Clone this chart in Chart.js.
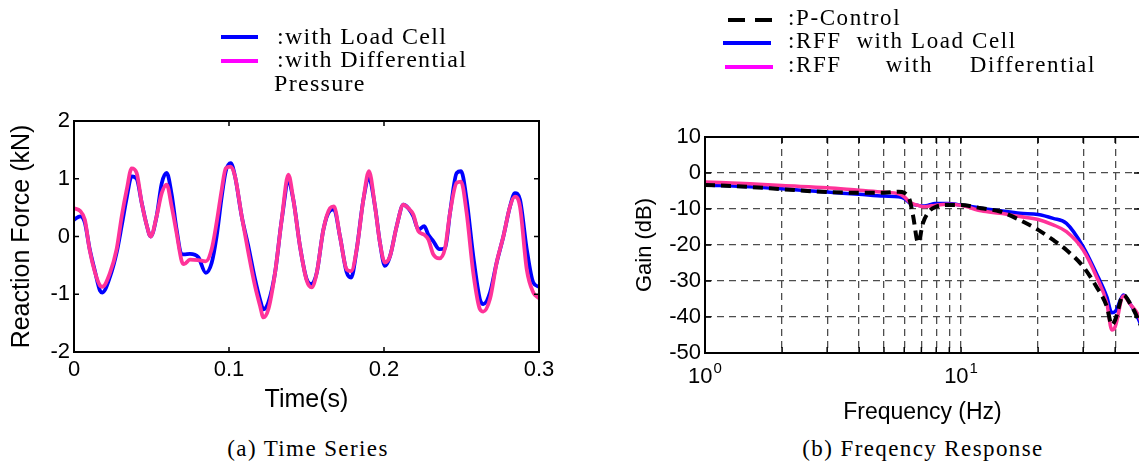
<!DOCTYPE html>
<html lang="en">
<head>
<meta charset="UTF-8">
<title>Reaction force and frequency response</title>
<script src="https://cdn.jsdelivr.net/npm/chart.js@4.4.1/dist/chart.umd.min.js"></script>
<style>
  html, body { margin: 0; padding: 0; width: 1139px; height: 469px; overflow: hidden; background: #fff; }
  canvas { position: absolute; top: 0; }
  .lg { position: absolute; z-index: 2; font-family: 'Liberation Serif', 'Times New Roman', serif;
        font-size: 24px; line-height: 24px; letter-spacing: 1.3px; white-space: pre; color: #000; }
  .lg.r { font-size: 23px; line-height: 23px; letter-spacing: 1.6px; }
  .sw { position: absolute; z-index: 2; height: 4px; }
  .cap { position: absolute; top: 437px; font-family: 'Liberation Serif', 'Times New Roman', serif;
         font-size: 23px; line-height: 23px; letter-spacing: 1.4px; white-space: pre; transform: translateX(-50%); }
</style>
</head>
<body>
<canvas id="timeChart" width="570" height="419" style="left:0"></canvas>
<canvas id="freqChart" width="545" height="430" style="left:600px"></canvas>

<!-- legend (a) -->
<div class="sw" id="swA0" style="left:221px; top:35px; width:37px"></div>
<div class="sw" id="swA1" style="left:221px; top:59px; width:37px"></div>
<div class="lg" style="left:277px; top:24px">:with Load Cell</div>
<div class="lg" style="left:277px; top:47px">:with Differential</div>
<div class="lg" style="left:274px; top:71px">Pressure</div>

<!-- legend (b) -->
<div class="sw" id="swB0a" style="left:728px; top:18px; width:17px"></div>
<div class="sw" id="swB0b" style="left:755px; top:18px; width:17px"></div>
<div class="sw" id="swB1" style="left:723px; top:41px; width:48px"></div>
<div class="sw" id="swB2" style="left:725px; top:65px; width:48px"></div>
<div class="lg r" style="left:788px; top:6px">:P-Control</div>
<div class="lg r" style="left:788px; top:29px">:RFF  with Load Cell</div>
<div class="lg r" style="left:788px; top:53px">:RFF      with     Differential</div>

<div class="cap" style="left:308px">(a) Time Series</div>
<div class="cap" style="left:923px">(b) Freqency Response</div>

<script>
// ---- (a) time series ----
const timeSec = [0, 0.004, 0.007, 0.010, 0.0135, 0.0168, 0.0183, 0.0232, 0.0275, 0.0308,
  0.034, 0.0372, 0.0404, 0.0437, 0.0465, 0.0495, 0.0533, 0.0566, 0.0598, 0.063,
  0.0662, 0.0695, 0.0709, 0.0748, 0.0802, 0.085, 0.0888, 0.092, 0.0953, 0.0979,
  0.1011, 0.1039, 0.1082, 0.1125, 0.1168, 0.12, 0.1222, 0.1254, 0.1297, 0.134,
  0.1383, 0.1415, 0.1458, 0.1501, 0.1533, 0.1566, 0.1609, 0.1652, 0.1677, 0.1716,
  0.1759, 0.1788, 0.1824, 0.1867, 0.1903, 0.1942, 0.1974, 0.2006, 0.2039, 0.2082,
  0.2125, 0.2157, 0.2189, 0.2222, 0.226, 0.2286, 0.2318, 0.2357, 0.2394, 0.2426,
  0.2469, 0.2497, 0.2533, 0.2576, 0.2619, 0.2641, 0.2684, 0.2727, 0.277, 0.2813,
  0.2845, 0.2877, 0.2921, 0.2963, 0.3];
const forceLoadCell = [0.29, 0.35, 0.24, -0.2, -0.6, -0.94, -0.97, -0.7, -0.28, 0.19,
  0.67, 1.04, 1.0, 0.58, 0.24, 0.0, 0.35, 0.92, 1.1, 0.73,
  0.12, -0.31, -0.31, -0.3, -0.36, -0.63, -0.46, 0.0, 0.69, 1.13,
  1.27, 1.04, 0.35, -0.17, -0.74, -1.09, -1.26, -1.14, -0.63, 0.29,
  0.93, 0.64, -0.17, -0.74, -0.82, -0.63, 0.12, 0.45, 0.47, 0.0,
  -0.62, -0.71, -0.22, 0.64, 1.01, 0.52, -0.11, -0.51, -0.34, 0.18,
  0.55, 0.49, 0.35, 0.12, 0.18, 0.03, -0.08, -0.22, -0.2, 0.41,
  1.1, 1.13, 0.64, -0.34, -1.09, -1.17, -0.97, -0.45, 0.0, 0.52,
  0.75, 0.64, -0.22, -0.8, -0.87];
const forceDiffPressure = [0.49, 0.44, 0.29, -0.22, -0.62, -0.85, -0.87, -0.63, -0.22, 0.35,
  0.81, 1.18, 1.1, 0.58, 0.24, 0.0, 0.35, 0.75, 0.9, 0.52,
  0.06, -0.43, -0.48, -0.4, -0.41, -0.43, -0.22, 0.24, 0.81, 1.18,
  1.21, 1.04, 0.35, -0.28, -0.86, -1.2, -1.4, -1.26, -0.63, 0.29,
  1.07, 0.64, -0.17, -0.76, -0.88, -0.63, 0.12, 0.49, 0.52, 0.0,
  -0.57, -0.6, -0.22, 0.64, 1.13, 0.52, -0.11, -0.45, -0.34, 0.18,
  0.55, 0.49, 0.38, 0.09, 0.03, -0.05, -0.31, -0.38, -0.2, 0.41,
  0.93, 0.95, 0.41, -0.63, -1.26, -1.3, -1.08, -0.45, 0.0, 0.52,
  0.69, 0.52, -0.57, -0.97, -1.07];
const timeTicks = [0, 0.1, 0.2, 0.3];
const forceTicks = [-2, -1, 0, 1, 2];
const timeSeriesNames = ['with Load Cell', 'with Differential Pressure'];

// ---- (b) frequency response ----
const freqHz = [1, 1.5, 2, 3, 4, 5, 5.7, 6, 6.3, 6.5, 6.8, 7.1, 7.5, 7.9, 8.8, 10,
  12, 14.2, 17, 20, 22.9, 25.8, 30, 33.8, 37.1, 38.8, 40, 43.1, 45.7, 49.3, 52];
const gainPControl = [-3.3, -3.9, -4.5, -5.3, -5.5, -5.5, -5.2, -5.5, -7.5, -12, -19.4, -13.9, -10.7, -9.5, -8.9, -8.9,
  -9.8, -10.7, -13.1, -15.8, -18.6, -21.4, -26, -31.6, -37.1, -42.2, -40.8, -33.9, -36.2, -40.8, -45];
const gainRffLoadCell = [-3.3, -3.8, -4.4, -5.3, -5.9, -6.4, -6.6, -7.1, -8.3, -8.7, -9.0, -9.2, -8.9, -8.5, -8.5, -8.9,
  -9.8, -10.5, -11.2, -11.5, -12.6, -14, -20.5, -27.9, -34.4, -38.8, -38.5, -33.9, -36.2, -40.6, -45];
const gainRffDiff = [-2.5, -3.0, -3.5, -4.1, -4.8, -5.3, -5.8, -6.6, -8.1, -8.6, -9.0, -9.4, -9.2, -9.0, -8.7, -9.0,
  -10.5, -11.2, -12.1, -12.9, -14.4, -16.3, -21.4, -28.8, -36.2, -43.6, -42.7, -34.2, -36.4, -39.5, -44];
const freqGridTicks = [1, 2, 3, 4, 5, 6, 7, 8, 9, 10, 20, 30, 40, 50];
const freqPowerTicks = [1, 10];
const gainTicks = [-50, -40, -30, -20, -10, 0, 10];
const freqSeriesNames = ['P-Control', 'RFF with Load Cell', 'RFF with Differential'];

const BLUE = '#0000ff';
const PINK = '#ff3399';
const MAGENTA = '#ff00ff';

document.getElementById('swA0').style.background = BLUE;
document.getElementById('swA1').style.background = MAGENTA;
document.getElementById('swB0a').style.background = '#000';
document.getElementById('swB0b').style.background = '#000';
document.getElementById('swB1').style.background = BLUE;
document.getElementById('swB2').style.background = MAGENTA;

Chart.defaults.font.family = "'Liberation Sans', Arial, sans-serif";
Chart.defaults.color = '#000';

// matlab style frame with inward tick marks
const boxTicks = {
  id: 'boxTicks',
  afterDraw(chart, args, opts) {
    const { ctx, chartArea: a, scales: { x, y } } = chart;
    const len = opts.len || 5;
    ctx.save();
    ctx.strokeStyle = '#000';
    ctx.lineWidth = 1.5;
    ctx.beginPath();
    x.ticks.forEach(t => {
      const px = x.getPixelForValue(t.value);
      ctx.moveTo(px, a.bottom); ctx.lineTo(px, a.bottom - len);
      ctx.moveTo(px, a.top); ctx.lineTo(px, a.top + len);
    });
    y.ticks.forEach(t => {
      const py = y.getPixelForValue(t.value);
      ctx.moveTo(a.left, py); ctx.lineTo(a.left + len, py);
      ctx.moveTo(a.right, py); ctx.lineTo(a.right - len, py);
    });
    ctx.stroke();
    ctx.lineWidth = 2;
    ctx.strokeRect(a.left, a.top, a.right - a.left, a.bottom - a.top);
    ctx.restore();
  }
};

// 10^n labels on the log axis
const powerLabels = {
  id: 'powerLabels',
  afterDraw(chart, args, opts) {
    const { ctx, scales: { x } } = chart;
    ctx.save();
    ctx.fillStyle = '#000';
    ctx.textAlign = 'left';
    ctx.textBaseline = 'alphabetic';
    opts.values.forEach(v => {
      const exp = String(Math.round(Math.log10(v)));
      ctx.font = "22px 'Liberation Sans'";
      const wb = ctx.measureText('10').width;
      ctx.font = "15px 'Liberation Sans'";
      const we = ctx.measureText(exp).width;
      const left = x.getPixelForValue(v) - (wb + we + 1) / 2;
      ctx.font = "22px 'Liberation Sans'";
      ctx.fillText('10', left, x.top + 30);
      ctx.font = "15px 'Liberation Sans'";
      ctx.fillText(exp, left + wb + 1, x.top + 20);
    });
    ctx.restore();
  }
};

function pts(xs, ys) {
  return xs.map((v, i) => ({ x: v, y: ys[i] }));
}

new Chart(document.getElementById('timeChart'), {
  type: 'line',
  data: {
    datasets: [
      { label: timeSeriesNames[1], data: pts(timeSec, forceDiffPressure), borderColor: PINK,
        borderWidth: 3.8, pointRadius: 0, cubicInterpolationMode: 'monotone', order: 0 },
      { label: timeSeriesNames[0], data: pts(timeSec, forceLoadCell), borderColor: BLUE,
        borderWidth: 3.8, pointRadius: 0, cubicInterpolationMode: 'monotone', order: 1 }
    ]
  },
  options: {
    responsive: false,
    animation: false,
    events: [],
    layout: { padding: { left: 3, top: 121, right: 31, bottom: 0 } },
    plugins: { legend: { display: false }, tooltip: { enabled: false }, boxTicks: { len: 5 } },
    scales: {
      x: {
        type: 'linear', min: 0, max: 0.3,
        afterBuildTicks: s => { s.ticks = timeTicks.map(v => ({ value: v })); },
        afterFit: s => { s.height = 67; },
        grid: { display: false, drawTicks: false },
        border: { display: false },
        ticks: { padding: 5, font: { size: 22 }, maxRotation: 0, callback: v => String(v) },
        title: { display: true, text: 'Time(s)', font: { size: 25 }, padding: { top: 4, bottom: 4 } }
      },
      y: {
        min: -2, max: 2,
        afterBuildTicks: s => { s.ticks = forceTicks.map(v => ({ value: v })); },
        afterFit: s => { s.width = 71; },
        grid: { display: false, drawTicks: false },
        border: { display: false },
        ticks: { padding: 4, font: { size: 22 }, callback: v => String(v) },
        title: { display: true, text: 'Reaction Force (kN)', font: { size: 25 }, padding: { top: 4, bottom: 4 } }
      }
    }
  },
  plugins: [boxTicks]
});

new Chart(document.getElementById('freqChart'), {
  type: 'line',
  data: {
    datasets: [
      { label: freqSeriesNames[0], data: pts(freqHz, gainPControl), borderColor: '#000',
        borderWidth: 4, borderDash: [10, 6], pointRadius: 0, cubicInterpolationMode: 'monotone', order: 0 },
      { label: freqSeriesNames[2], data: pts(freqHz, gainRffDiff), borderColor: PINK,
        borderWidth: 3.5, pointRadius: 0, cubicInterpolationMode: 'monotone', order: 1 },
      { label: freqSeriesNames[1], data: pts(freqHz, gainRffLoadCell), borderColor: BLUE,
        borderWidth: 3.5, pointRadius: 0, cubicInterpolationMode: 'monotone', order: 2 }
    ]
  },
  options: {
    responsive: false,
    animation: false,
    events: [],
    layout: { padding: { left: 28, top: 137, right: 5, bottom: 0 } },
    plugins: {
      legend: { display: false }, tooltip: { enabled: false },
      boxTicks: { len: 6 }, powerLabels: { values: freqPowerTicks }
    },
    scales: {
      x: {
        type: 'logarithmic', min: 1, max: 50,
        afterBuildTicks: s => { s.ticks = freqGridTicks.map(v => ({ value: v })); },
        afterFit: s => { s.height = 77; },
        grid: { color: '#4d4d4d', lineWidth: 1.3, drawTicks: false },
        border: { display: false, dash: [7, 5] },
        ticks: { display: false },
        title: { display: true, text: 'Frequency (Hz)', font: { size: 23 }, padding: { top: 4, bottom: 4 } }
      },
      y: {
        min: -50, max: 10,
        afterBuildTicks: s => { s.ticks = gainTicks.map(v => ({ value: v })); },
        afterFit: s => { s.width = 77; },
        grid: { color: '#4d4d4d', lineWidth: 1.3, drawTicks: false },
        border: { display: false, dash: [7, 5] },
        ticks: { padding: 4, font: { size: 22 }, callback: v => String(v) },
        title: { display: true, text: 'Gain (dB)', font: { size: 22 }, padding: { top: 4, bottom: 4 } }
      }
    }
  },
  plugins: [boxTicks, powerLabels]
});
</script>
</body>
</html>
